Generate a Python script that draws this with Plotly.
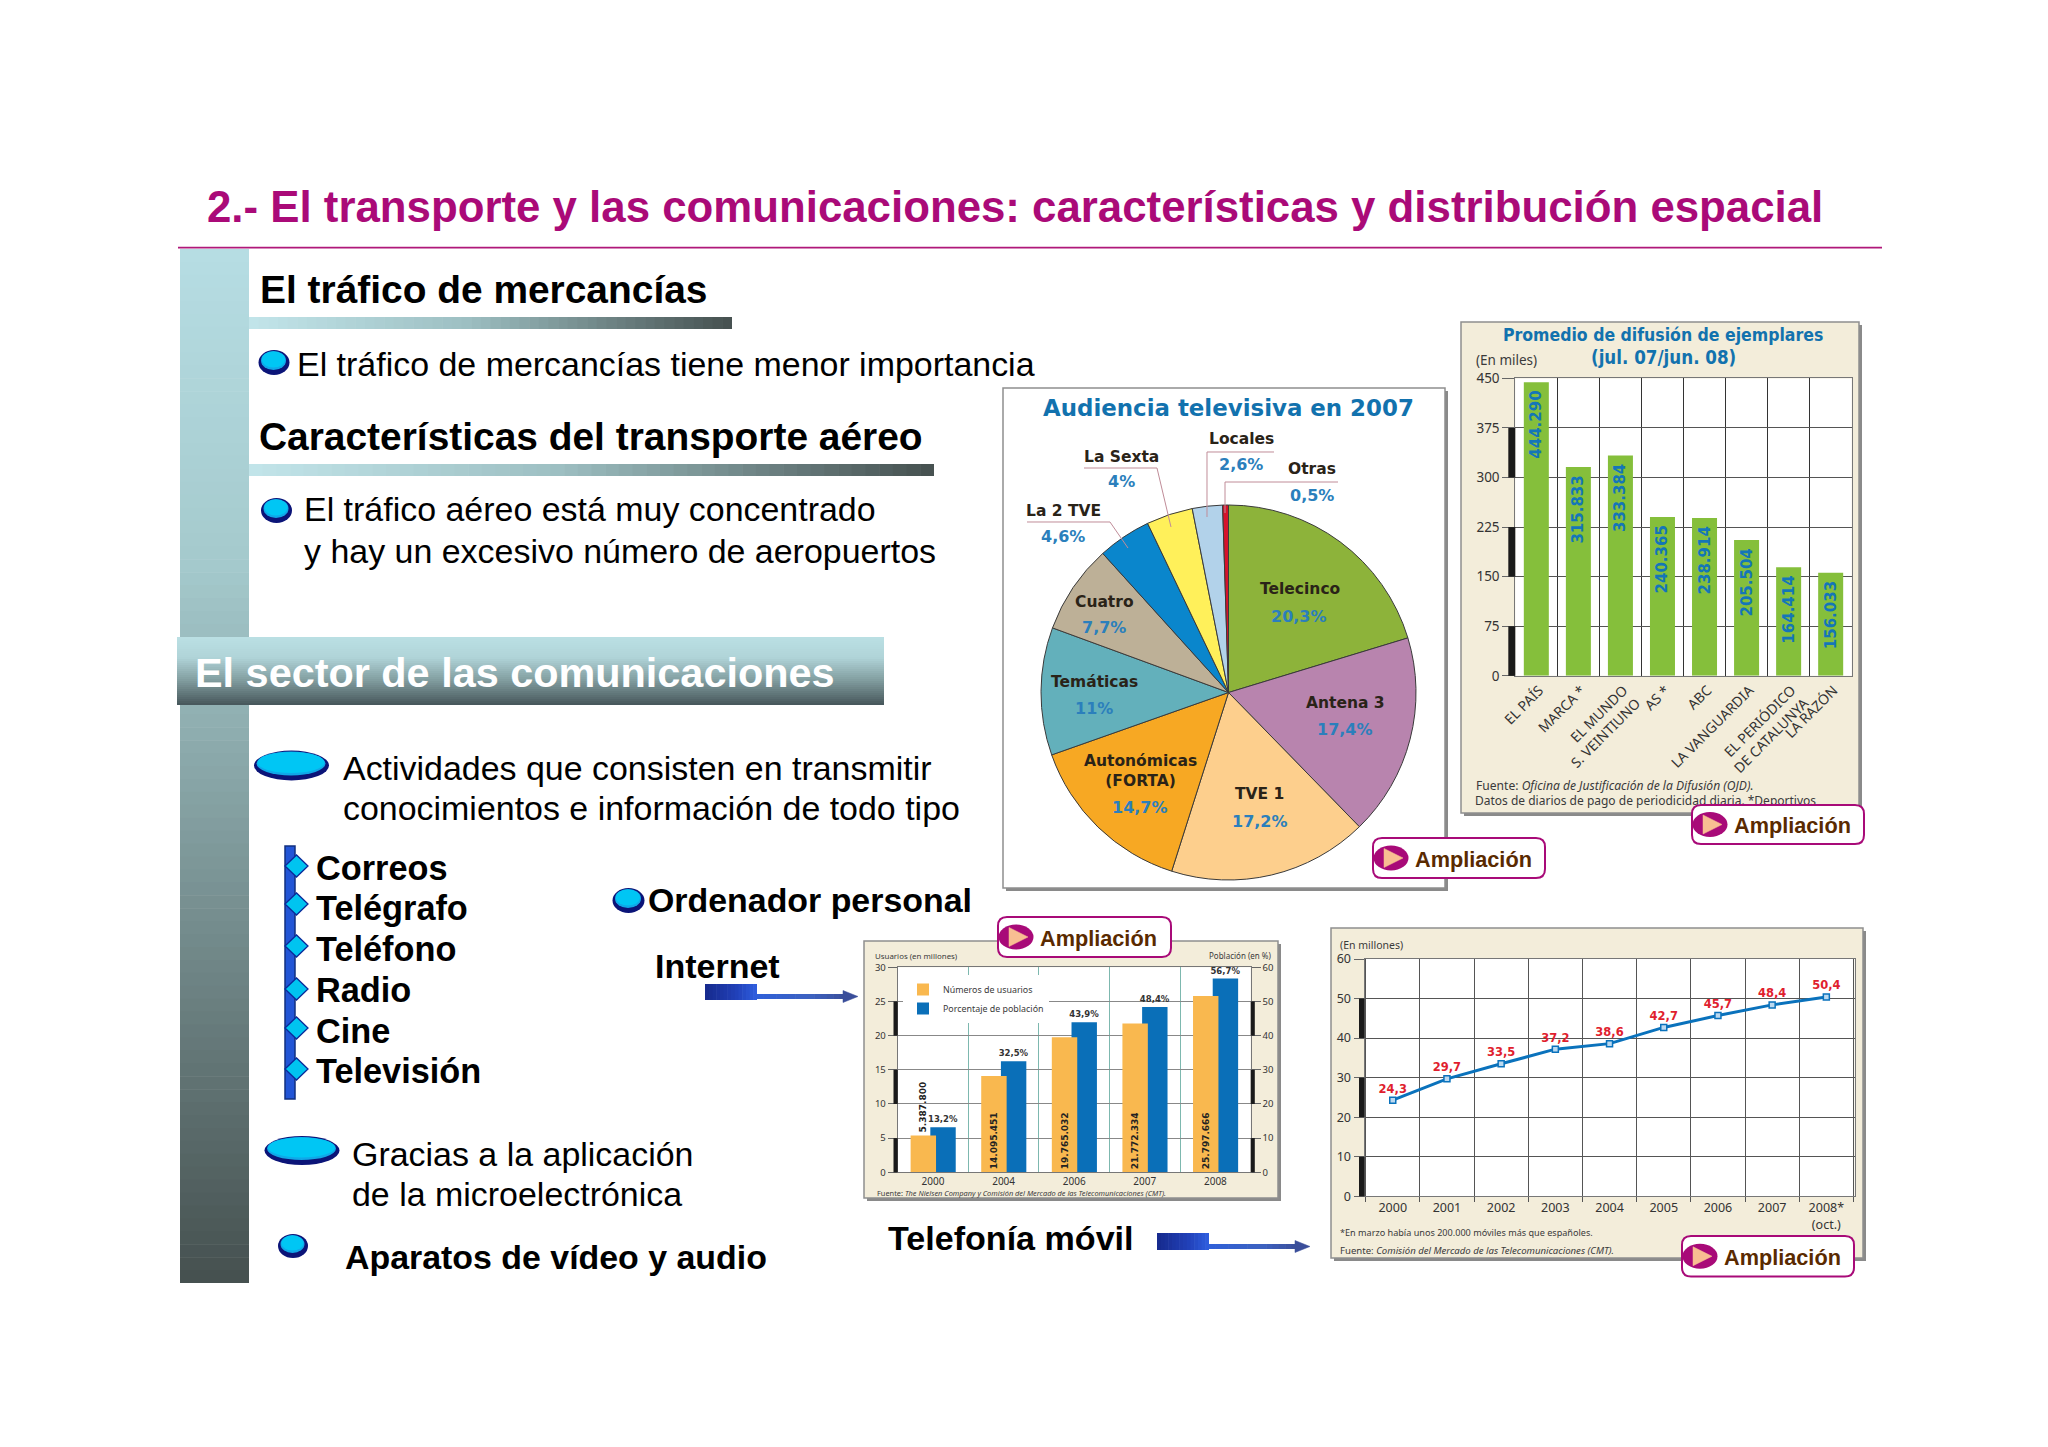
import plotly.graph_objects as go

W, H = 2048, 1447

# ---------- data ----------
pie_labels = ["Telecinco", "Antena 3", "TVE 1", "Autonómicas<br>(FORTA)", "Temáticas", "Cuatro",
              "La 2 TVE", "La Sexta", "Locales", "Otras"]
pie_values = [20.3, 17.4, 17.2, 14.7, 11, 7.7, 4.6, 4, 2.6, 0.5]
pie_colors = ["#8DB33A", "#B884AE", "#FDCF8D", "#F7A823", "#63B0BB", "#BDB097",
              "#0A86CC", "#FFF05A", "#B2D2EA", "#D6122B"]

press_names = ["EL PAÍS", "MARCA *", "EL MUNDO<br>S. VEINTIUNO", "AS *", "ABC", "LA VANGUARDIA",
               "EL PERIÓDICO<br>DE CATALUNYA", "LA RAZÓN"]
press_values = [444.290, 315.833, 333.384, 240.365, 238.914, 205.504, 164.414, 156.033]
press_ticks = [0, 75, 150, 225, 300, 375, 450]

net_years = ["2000", "2004", "2006", "2007", "2008"]
net_users = [5387800, 14095451, 19765032, 21772334, 25797666]
net_pct = [13.2, 32.5, 43.9, 48.4, 56.7]

mob_years = ["2000", "2001", "2002", "2003", "2004", "2005", "2006", "2007", "2008*<br>(oct.)"]
mob_values = [24.3, 29.7, 33.5, 37.2, 38.6, 42.7, 45.7, 48.4, 50.4]

comms_list = ["Correos", "Telégrafo", "Teléfono", "Radio", "Cine", "Televisión"]


def es(v):
    return f"{v:g}".replace(".", ",")


def thousands(v):
    return f"{v:,}".replace(",", ".")


# ---------- pixel helpers ----------
def px(x):
    return x / W


def py(y):
    return 1 - y / H


shapes_below, shapes_above, notes = [], [], []


def rect(x0, y0, x1, y1, fill, line=None, lw=0, store=shapes_below):
    store.append(dict(type="rect", xref="paper", yref="paper", x0=px(x0), x1=px(x1), y0=py(y1), y1=py(y0),
                      fillcolor=fill, line=dict(color=line or fill, width=lw)))


def ell(cx, cy, w, h, fill, line=None, lw=0, store=shapes_above):
    store.append(dict(type="circle", xref="paper", yref="paper", x0=px(cx - w / 2), x1=px(cx + w / 2),
                      y0=py(cy + h / 2), y1=py(cy - h / 2), fillcolor=fill,
                      line=dict(color=line or fill, width=lw)))


def poly(points, fill=None, line=None, lw=1, close=True, store=shapes_above):
    d = "M" + " L".join(f"{px(x):.6f},{py(y):.6f}" for x, y in points) + (" Z" if close else "")
    s = dict(type="path", xref="paper", yref="paper", path=d, line=dict(color=line or fill or "#000", width=lw))
    if fill:
        s["fillcolor"] = fill
    else:
        s["fillcolor"] = "rgba(0,0,0,0)"
    store.append(s)


def hex2(c):
    c = c.lstrip("#")
    return [int(c[i:i + 2], 16) for i in (0, 2, 4)]


def mix(stops, t):
    for (a, ca), (b, cb) in zip(stops, stops[1:]):
        if t <= b:
            f = (t - a) / (b - a) if b > a else 0
            A, B = hex2(ca), hex2(cb)
            return "#%02x%02x%02x" % tuple(round(A[i] + (B[i] - A[i]) * f) for i in range(3))
    return stops[-1][1]


def grad(x0, y0, x1, y1, stops, n=40, vertical=True, store=shapes_below):
    for i in range(n):
        t = (i + 0.5) / n
        c = mix(stops, t)
        if vertical:
            a = y0 + (y1 - y0) * i / n
            b = y0 + (y1 - y0) * (i + 1) / n + (0.6 if i < n - 1 else 0)
            rect(x0, a, x1, b, c, store=store)
        else:
            a = x0 + (x1 - x0) * i / n
            b = x0 + (x1 - x0) * (i + 1) / n + (0.6 if i < n - 1 else 0)
            rect(a, y0, b, y1, c, store=store)


def T(text, x, y, size, color="#000000", bold=False, anchor="left", family="Liberation Sans"):
    notes.append(dict(text=f"<b>{text}</b>" if bold else text, x=px(x), y=py(y), xref="paper", yref="paper",
                      xanchor=anchor, yanchor="middle", showarrow=False, borderpad=0, borderwidth=0,
                      align="center" if anchor == "center" else "left",
                      font=dict(size=size, color=color, family=family)))


SANS = "Noto Sans"
VERD = "DejaVu Sans"
COND = "DejaVu Sans Condensed"

# ---------- slide frame ----------
grad(180, 249, 249, 1283, [(0, "#B6DDE3"), (0.3, "#A5CACD"), (1, "#45504F")], n=80)
grad(249, 317, 732, 329, [(0, "#C2E5EA"), (0.45, "#9DBFC2"), (1, "#45504F")], n=50, vertical=False)
grad(249, 464, 934, 476, [(0, "#C2E5EA"), (0.45, "#9DBFC2"), (1, "#45504F")], n=50, vertical=False)
grad(177, 637, 884, 705, [(0, "#BBE0E4"), (0.3, "#B0D4D8"), (0.62, "#84A0A2"), (1, "#46565A")], n=34)
rect(178, 246.8, 1882, 248.4, "#B0187A")

T("2.- El transporte y las comunicaciones: características y distribución espacial", 207, 206.5, 43.8, "#AA0A78", True)
T("El tráfico de mercancías", 260, 289.5, 38.9, "#000", True)
T("El tráfico de mercancías tiene menor importancia", 297, 363.5, 33.95)
T("Características del transporte aéreo", 259, 436, 38.9, "#000", True)
T("El tráfico aéreo está muy concentrado", 303.5, 509.5, 33.95)
T("y hay un excesivo número de aeropuertos", 303.5, 550.5, 33.95)
T("El sector de las comunicaciones", 195, 673, 41.4, "#FFFFFF", True)
T("Actividades que consisten en transmitir", 343, 767.5, 33.95)
T("conocimientos e información de todo tipo", 343, 808, 33.95)
T("Gracias a la aplicación", 352, 1154, 33.95)
T("de la microelectrónica", 352, 1194, 33.95)
T("Aparatos de vídeo y audio", 344.5, 1257, 33.9, "#000", True)
T("Ordenador personal", 647.5, 900, 33.9, "#000", True)
T("Internet", 654.5, 966, 34, "#000", True)
T("Telefonía móvil", 888, 1238, 34.1, "#000", True)


def bullet(cx, cy, w, h):
    ell(cx + 0.5, cy + 1.5, w, h, "#0B1478")
    ell(cx, cy - 0.5, w - 6, h - 6, "#10A8E8")
    ell(cx, cy - 1.5, w - 8, h - 9, "#00C6F4")


bullet(273.5, 361, 31, 25)
bullet(276, 509, 31, 25)
bullet(291, 764, 75, 30)
bullet(301.5, 1149, 75, 29)
bullet(292.5, 1244.5, 30, 24)
bullet(628, 899, 32, 25)

rect(285, 846, 295, 1099, "#2255D6", "#123080", 1.5, store=shapes_above)
diamond_y = [866, 904, 946, 989, 1028, 1069]
label_y = [868, 908, 949, 989.5, 1030.5, 1071]
for name, dy, ly in zip(comms_list, diamond_y, label_y):
    poly([(285, dy), (296.5, dy - 11), (308, dy), (296.5, dy + 11)], "#00C4F0", "#0B2A9A", 1.3)
    T(name, 316, ly, 34.3, "#000", True)


def block_arrow(x0, xm, xe, y0, y1, ys):
    grad(x0, y0, xm, y1, [(0, "#162A8C"), (0.6, "#2140B8"), (1, "#2F5FE0")], n=14, vertical=False, store=shapes_above)
    grad(xm, ys - 2.5, xe - 12, ys + 2.5, [(0, "#2F60D8"), (0.6, "#3D62C0"), (1, "#3A4E9A")], n=14, vertical=False,
         store=shapes_above)
    poly([(xe - 15, ys - 6), (xe, ys), (xe - 15, ys + 6)], "#3A4E9A", "#3A4E9A", 0.5)


block_arrow(705, 757, 858, 984, 1000, 996.5)
block_arrow(1157, 1209, 1310, 1233, 1250, 1246.5)

# ---------- chart panels ----------
panels = [
    (1003, 388, 1445, 888, "#FFFFFF"),
    (1461, 322, 1859, 813, "#F3EDDA"),
    (864, 941, 1278, 1198, "#F3EDDA"),
    (1331, 928, 1863, 1258, "#F3EDDA"),
]
for x0, y0, x1, y1, fill in panels:
    rect(x0 + 3, y0 + 3, x1 + 3, y1 + 3, "#8A8A8A")
    rect(x0, y0, x1, y1, fill, "#8F8F8F", 1.5)

# plot rectangles in px: left, top, right, bottom
P_PRESS = (1515.3, 378.4, 1851.7, 675.8)
P_NET = (897.7, 967.3, 1250.7, 1172.3)
P_MOB = (1364.5, 959, 1854.6, 1196.3)
for p in (P_PRESS, P_NET, P_MOB):
    rect(p[0], p[1], p[2], p[3], "#FFFFFF")


def dom(p):
    return dict(x=[px(p[0]), px(p[2])], y=[py(p[3]), py(p[1])])


def stripes(p, x0, x1, ymax, spans):
    for a, b in spans:
        top = p[3] - (p[3] - p[1]) * b / ymax
        bot = p[3] - (p[3] - p[1]) * a / ymax
        rect(x0, top, x1, bot, "#1A1A1A", store=shapes_above)


stripes(P_PRESS, 1508.3, P_PRESS[0], 450, [(0, 75), (150, 225), (300, 375)])
stripes(P_NET, 893.5, P_NET[0], 30, [(0, 5), (10, 15), (20, 25)])
stripes(P_NET, P_NET[2], 1254.8, 30, [(0, 5), (10, 15), (20, 25)])
stripes(P_MOB, 1359, P_MOB[0], 60, [(0, 10), (20, 30), (40, 50)])

fig = go.Figure()

# ---------- pie ----------
fig.add_trace(go.Pie(labels=pie_labels, values=pie_values, sort=False, direction="clockwise", rotation=0,
                     marker=dict(colors=pie_colors, line=dict(color="#3A3A3A", width=1)),
                     textinfo="none", hoverinfo="label+percent", showlegend=False,
                     domain=dict(x=[px(1039.5), px(1417.5)], y=[py(880), py(505)])))

T("Audiencia televisiva en 2007", 1228, 408.5, 22.9, "#1272AE", True, "center", VERD)
pie_name_pos = [(1300, 589), (1345, 703), (1259, 794), (1140, 771), (1094, 682), (1104, 602),
                (1063, 511), (1121, 457), (1241, 439), (1312, 469)]
pie_pct_pos = [(1299, 616), (1345, 730), (1260, 821), (1140, 807), (1094, 708), (1104, 628),
               (1063, 536), (1121, 482), (1241, 465), (1312, 495)]
for name, val, (nx, ny), (vx, vy) in zip(pie_labels, pie_values, pie_name_pos, pie_pct_pos):
    T(name, nx, ny, 15.5, "#2A2318", True, "center", VERD)
    T(es(val) + "%", vx, vy, 16, "#2B7FBC", True, "center", VERD)

for pts in ([(1027, 522), (1110, 522), (1128, 548)],
            [(1084, 468), (1157, 468), (1171, 527)],
            [(1274, 452), (1207, 452), (1207, 517)],
            [(1338, 482), (1225, 482), (1225, 513)]):
    poly(pts, None, "#C08C98", 1, close=False)

# ---------- press bars ----------
d = dom(P_PRESS)
fig.add_trace(go.Bar(x=press_names, y=press_values, xaxis="x", yaxis="y", showlegend=False, width=0.595,
                     marker=dict(color="#85BF3B", line=dict(width=0)),
                     text=[f"{v:.3f}\u00a0" for v in press_values], textposition="inside", insidetextanchor="end",
                     textangle=-90, constraintext="none",
                     textfont=dict(family=VERD, size=15, color="#1476B8", weight="bold")))
axis_common = dict(showline=True, linecolor="#777777", linewidth=1, mirror=True, fixedrange=True)
grid_dark = "#555555"
layout_axes = dict(
    xaxis=dict(domain=d["x"], anchor="y", type="category", tickson="boundaries", showgrid=True, gridcolor="#333333",
               gridwidth=1, ticks="", tickangle=-45, ticklabelshift=3,
               tickfont=dict(family=SANS, size=14, color="#333333"), **axis_common),
    yaxis=dict(domain=d["y"], anchor="x", range=[0, 450], tickvals=press_ticks, ticks="outside", ticklen=12,
               tickcolor="#666666", gridcolor=grid_dark, showgrid=True, zeroline=False,
               tickfont=dict(family=SANS, size=13.5, color="#333333"), **axis_common),
)
T("Promedio de difusión de ejemplares", 1663, 335.5, 17.5, "#1272AE", True, "center", COND)
T("(jul. 07/jun. 08)", 1663, 357, 18.6, "#1272AE", True, "center", COND)
T("(En miles)", 1476, 360, 13.5, "#3A3A3A", False, "left", SANS)
T("Fuente: <i>Oficina de Justificación de la Difusión (OJD).</i>", 1476, 785.5, 12.1, "#3A3A3A", False, "left", SANS)

# ---------- internet bars ----------
d = dom(P_NET)
fig.add_trace(go.Bar(x=net_years, y=[v / 1e6 for v in net_users], xaxis="x2", yaxis="y3",
                     name="Números de usuarios", width=0.36, offset=-0.317,
                     marker=dict(color="#F9B84F", line=dict(width=0)),
                     text=[thousands(v) for v in net_users],
                     textposition=["outside", "inside", "inside", "inside", "inside"], insidetextanchor="start",
                     textangle=-90, constraintext="none", cliponaxis=False,
                     textfont=dict(family=VERD, size=9, color="#222222", weight="bold")))
fig.add_trace(go.Bar(x=net_years, y=net_pct, xaxis="x2", yaxis="y2",
                     name="Porcentaje de población", width=0.36, offset=-0.038,
                     marker=dict(color="#0A6FB8", line=dict(width=0)),
                     text=[es(v) + "%" for v in net_pct], textposition="outside", textangle=0,
                     constraintext="none", cliponaxis=False,
                     textfont=dict(family=VERD, size=8.5, color="#333333", weight="bold")))
small_tick = dict(family=SANS, size=9.5, color="#333333")
layout_axes.update(
    xaxis2=dict(domain=d["x"], anchor="y2", type="category", tickson="boundaries", showgrid=True,
                gridcolor="#7DB8AF", gridwidth=1, ticks="", tickfont=dict(family=SANS, size=10, color="#333333"),
                **axis_common),
    yaxis2=dict(domain=d["y"], anchor="x2", side="right", range=[0, 60], tickvals=[0, 10, 20, 30, 40, 50, 60],
                ticks="outside", ticklen=9, tickcolor="#666666", gridcolor="#888888", showgrid=True, zeroline=False,
                tickfont=small_tick, **axis_common),
    yaxis3=dict(domain=d["y"], anchor="x2", side="left", overlaying="y2", range=[0, 30],
                tickvals=[0, 5, 10, 15, 20, 25, 30], ticks="outside", ticklen=9, tickcolor="#666666",
                showgrid=False, zeroline=False, tickfont=small_tick, fixedrange=True),
)
T("Usuarios (en millones)", 875, 956, 7.9, "#3A3A3A", False, "left", SANS)
T("Población (en %)", 1272, 956, 8, "#3A3A3A", False, "right", SANS)
T("Fuente: <i>The Nielsen Company y Comisión del Mercado de las Telecomunicaciones (CMT).</i>",
  877, 1193, 7.4, "#3A3A3A", False, "left", SANS)

# ---------- mobile line ----------
d = dom(P_MOB)
fig.add_trace(go.Scatter(x=mob_years, y=mob_values, xaxis="x3", yaxis="y4", showlegend=False,
                         mode="lines+markers+text", line=dict(color="#0A72BC", width=3),
                         marker=dict(symbol="square", size=6, color="#BBD9F0", line=dict(color="#0A72BC", width=1.5)),
                         text=[es(v) for v in mob_values], textposition="top center", cliponaxis=False,
                         textfont=dict(family=VERD, size=11.5, color="#E01E2E", weight="bold")))
layout_axes.update(
    xaxis3=dict(domain=d["x"], anchor="y4", type="category", tickson="boundaries", showgrid=True, gridcolor="#555555",
                gridwidth=1, ticks="outside", ticklen=5, tickcolor="#555555",
                tickfont=dict(family=SANS, size=12.5, color="#333333"), **axis_common),
    yaxis4=dict(domain=d["y"], anchor="x3", range=[0, 60], tickvals=[0, 10, 20, 30, 40, 50, 60], ticks="outside",
                ticklen=10, tickcolor="#666666", gridcolor=grid_dark, showgrid=True, zeroline=False,
                tickfont=dict(family=SANS, size=12.5, color="#333333"), **axis_common),
)
T("(En millones)", 1340, 945, 10.5, "#3A3A3A", False, "left", SANS)
T("*En marzo había unos 200.000 móviles más que españoles.", 1340, 1232, 9.1, "#3A3A3A", False, "left", SANS)
T("Fuente: <i>Comisión del Mercado de las Telecomunicaciones (CMT).</i>", 1340, 1250, 9.6, "#3A3A3A", False, "left", SANS)

# text that runs underneath the "Ampliación" button has to be a trace, so the button can cover it
fig.add_trace(go.Scatter(x=[1475], y=[802], xaxis="x4", yaxis="y5", mode="text", showlegend=False, hoverinfo="skip",
                         text=["Datos de diarios de pago de periodicidad diaria. *Deportivos"],
                         textposition="middle right", cliponaxis=False,
                         textfont=dict(family=SANS, size=12, color="#3A3A3A")))
layout_axes.update(
    xaxis4=dict(domain=[0, 1], anchor="y5", range=[0, W], visible=False, fixedrange=True),
    yaxis5=dict(domain=[0, 1], anchor="x4", range=[H, 0], visible=False, fixedrange=True),
)


# ---------- "Ampliación" buttons ----------
def button(x0, y0, x1, y1):
    r = 9
    def P(x, y):
        return f"{px(x):.6f},{py(y):.6f}"
    path = (f"M{P(x0 + r, y0)} L{P(x1 - r, y0)} Q{P(x1, y0)} {P(x1, y0 + r)} L{P(x1, y1 - r)} Q{P(x1, y1)} {P(x1 - r, y1)} "
            f"L{P(x0 + r, y1)} Q{P(x0, y1)} {P(x0, y1 - r)} L{P(x0, y0 + r)} Q{P(x0, y0)} {P(x0 + r, y0)} Z")
    shapes_above.append(dict(type="path", xref="paper", yref="paper", path=path, fillcolor="#FFFFFF",
                             line=dict(color="#A80A78", width=2)))
    cy = (y0 + y1) / 2
    ell(x0 + 18, cy, 35, 25, "#A80A78")
    poly([(x0 + 11, cy - 9.5), (x0 + 30, cy), (x0 + 11, cy + 9.5)], "#F8BE92", "#F8BE92", 0.5)
    T("Ampliación", x0 + 42, cy + 1, 21.7, "#5A2A00", True)


button(1373, 838, 1545, 878)
button(1692, 805, 1864, 844)
button(998, 917, 1171, 957)
button(1682, 1236, 1854, 1276.5)

fig.update_layout(
    width=W, height=H, autosize=False, margin=dict(l=0, r=0, t=0, b=0, pad=0, autoexpand=False),
    paper_bgcolor="#FFFFFF", plot_bgcolor="rgba(0,0,0,0)",
    barmode="overlay", font=dict(family=SANS),
    shapes=[dict(s, layer="below") for s in shapes_below] + [dict(s, layer="above") for s in shapes_above],
    annotations=notes,
    legend=dict(x=px(903), y=py(975), xanchor="left", yanchor="top", bgcolor="#FFFFFF", borderwidth=0,
                itemwidth=30, traceorder="normal", font=dict(family=SANS, size=8.9, color="#3A3A3A")),
    **layout_axes,
)
fig.write_html("out.html", config=dict(displayModeBar=False),
               post_script="document.body.style.margin='0';document.documentElement.style.overflow='hidden';")
